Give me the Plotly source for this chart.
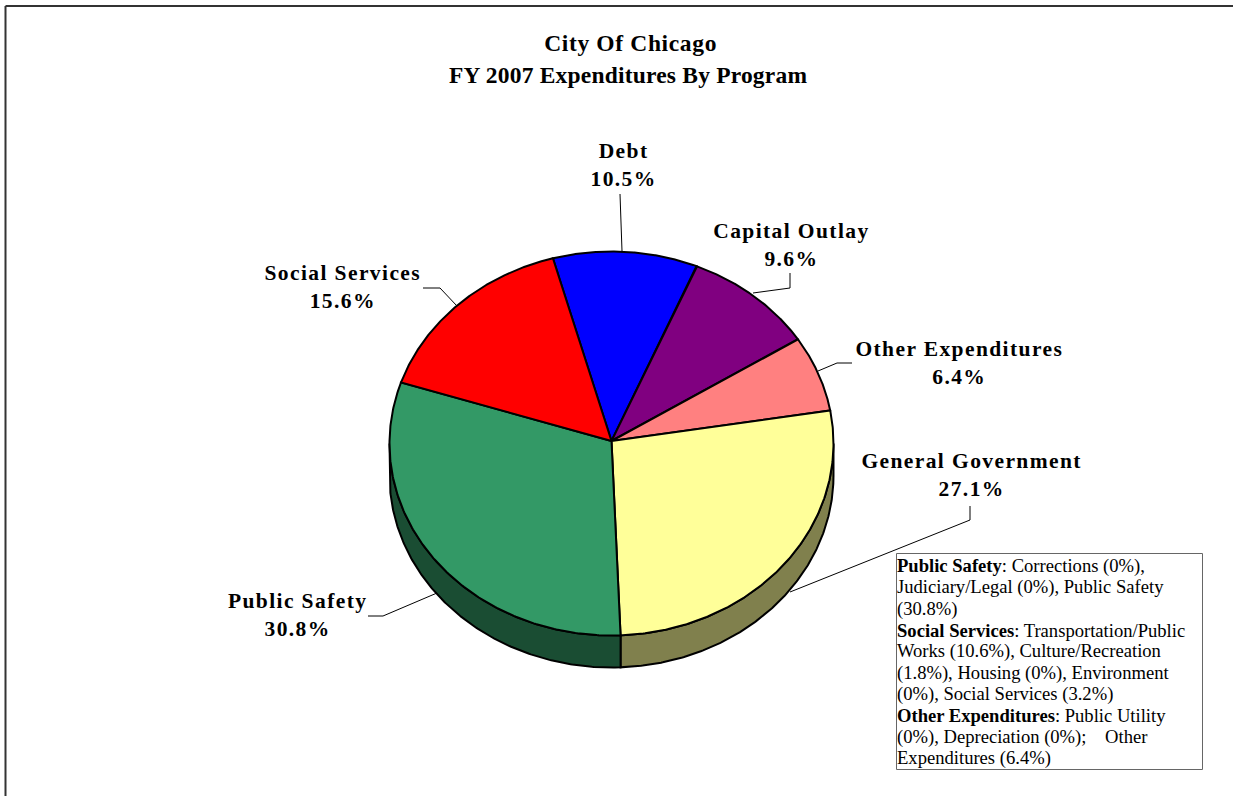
import json
import numpy as np
import plotly.graph_objects as go

# Data, clockwise starting from the Debt slice
categories = ["Debt", "Capital Outlay", "Other Expenditures", "General Government", "Public Safety", "Social Services"]
shares = [10.5, 9.6, 6.4, 27.1, 30.8, 15.6]
top_colors = ["#0000ff", "#800080", "#ff8080", "#ffff99", "#339966", "#ff0000"]
side_colors = [None, None, None, "#80804d", "#1a4d33", None]

title_lines = ["City Of Chicago", "FY 2007 Expenditures By Program"]
note_lines = [
    "<b>Public Safety</b>: Corrections (0%),",
    "Judiciary/Legal (0%), Public Safety",
    "(30.8%)",
    "<b>Social Services</b>: Transportation/Public",
    "Works (10.6%), Culture/Recreation",
    "(1.8%), Housing (0%), Environment",
    "(0%), Social Services (3.2%)",
    "<b>Other Expenditures</b>: Public Utility",
    "(0%), Depreciation (0%);&nbsp;&nbsp;&nbsp; Other",
    "Expenditures (6.4%)",
]

# Pixel-space layout of the pie
W, H = 1233, 796
CX, HUB_Y, RIM_Y, RX, RY, DEPTH = 611.5, 441, 443.5, 222, 192, 32
START = -15.3
FONT = "Liberation Serif"

label_pos = {
    "Debt": (623.5, 164.5), "Capital Outlay": (791, 244.5), "Other Expenditures": (959, 363),
    "General Government": (971.5, 474.5), "Public Safety": (297.5, 614.5), "Social Services": (342.5, 287),
}
leaders = [
    [(620, 194), (622, 251)],
    [(753, 293), (790, 288), (790, 273)],
    [(818, 371), (837, 363), (852, 363)],
    [(790, 592), (970, 520), (970, 506)],
    [(437, 593), (383, 616), (368, 616)],
    [(457, 306), (440, 288), (423, 288)],
]


def rim(t_deg, dy=0.0):
    t = np.radians(t_deg)
    return CX + RX * np.sin(t), RIM_Y - RY * np.cos(t) + dy


fig = go.Figure()
bounds = START + np.concatenate([[0], np.cumsum(shares)]) * 360 / sum(shares)

# Side walls of the extruded disc (front half only)
for i, name in enumerate(categories):
    if side_colors[i] is None:
        continue
    a, b = max(bounds[i], 90), min(bounds[i + 1], 270)
    ts = np.linspace(a, b, 200)
    x1, y1 = rim(ts)
    x2, y2 = rim(ts[::-1], DEPTH)
    fig.add_trace(go.Scatter(
        x=np.r_[x1, x2, x1[0]], y=np.r_[y1, y2, y1[0]], mode="lines", fill="toself",
        fillcolor=side_colors[i], line=dict(color="black", width=2), hoverinfo="skip", showlegend=False,
    ))

# Top face slices
for i, name in enumerate(categories):
    ts = np.linspace(bounds[i], bounds[i + 1], 200)
    x, y = rim(ts)
    fig.add_trace(go.Scatter(
        x=np.r_[CX, x, CX], y=np.r_[HUB_Y, y, HUB_Y], mode="lines", fill="toself",
        fillcolor=top_colors[i], line=dict(color="black", width=2), name=name,
        text=f"{name}: {shares[i]}%", hoverinfo="text", showlegend=False,
    ))

# Leader lines
for pts in leaders:
    xs, ys = zip(*pts)
    fig.add_trace(go.Scatter(x=xs, y=ys, mode="lines", line=dict(color="black", width=1),
                             hoverinfo="skip", showlegend=False))

anns = [
    dict(x=630, y=42.5, text=f"<b>{title_lines[0]}</b>", font=dict(size=23.5)),
    dict(x=628, y=74.5, text=f"<b>{title_lines[1]}</b>", font=dict(size=23.5)),
]
for name, share in zip(categories, shares):
    lx, ly = label_pos[name]
    anns.append(dict(x=lx, y=ly, text=f"<b>{name}</b><br><b>{share}%</b>", font=dict(size=21.5)))
for i, line in enumerate(note_lines):
    anns.append(dict(x=895, y=565.8 + 21.4 * i, text=line, align="left", xanchor="left", font=dict(size=18.6)))
for a in anns:
    a.update(xref="x", yref="y", showarrow=False)
    a.setdefault("xanchor", "center")
    a["yanchor"] = "middle"
    a["font"] = dict(family=FONT, color="black", **a["font"])

fig.update_layout(
    width=W, height=H, margin=dict(l=0, r=0, t=0, b=0),
    paper_bgcolor="white", plot_bgcolor="white", showlegend=False,
    xaxis=dict(range=[0, W], visible=False, fixedrange=True),
    yaxis=dict(range=[H, 0], visible=False, fixedrange=True),
    annotations=anns,
    shapes=[
        dict(type="line", x0=5.5, x1=5.5, y0=6, y1=H, line=dict(color="#333333", width=2)),
        dict(type="line", x0=5.5, x1=W, y0=6, y1=6, line=dict(color="#333333", width=2)),
        dict(type="rect", x0=896.5, x1=1202.5, y0=553.5, y1=769.5, line=dict(color="#666666", width=1)),
    ],
)

post = """
document.body.style.margin = '0';
document.documentElement.style.overflow = 'hidden';
var names = %s, titles = %s;
document.querySelectorAll('.annotation-text').forEach(function (el) {
  var t = el.textContent;
  if (t === titles[0]) { el.style.letterSpacing = '0.65px'; }
  else if (t === titles[1]) { el.style.letterSpacing = '0.2px'; }
  else if (names.some(function (n) { return t.indexOf(n) === 0 && /%%$/.test(t) && t.indexOf(':') < 0 && t.indexOf('(') < 0; })) {
    el.style.letterSpacing = '1.4px';
  }
});
""" % (json.dumps(categories), json.dumps(title_lines))
fig.write_html("out.html", post_script=post, config={"displayModeBar": False})
